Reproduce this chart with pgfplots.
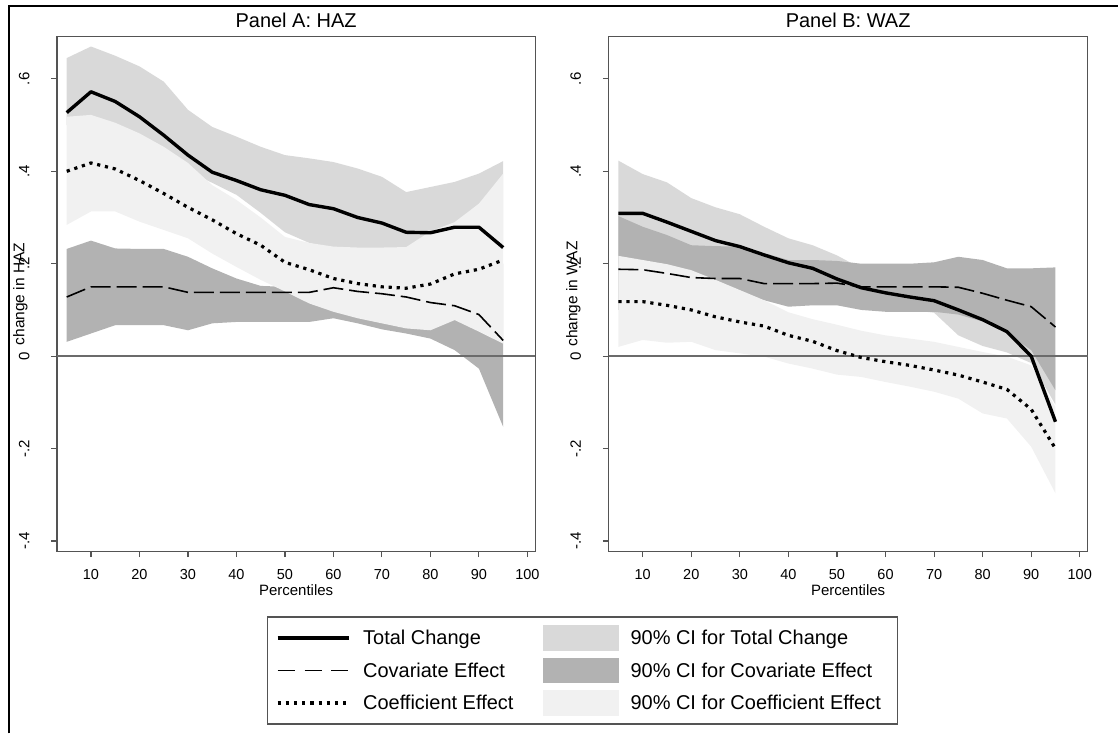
\documentclass[border=0pt]{standalone}
\usepackage{fontspec}
\setmainfont{Liberation Sans}
\usepackage{pgfplots}
\pgfplotsset{compat=1.18}
\usepackage{pgfplotstable}
\usepgfplotslibrary{fillbetween}

\definecolor{ciT}{gray}{0.85}
\definecolor{ciV}{gray}{0.70}
\definecolor{ciC}{gray}{0.945}
\definecolor{axc}{gray}{0.33}
\definecolor{zl}{gray}{0.42}

\pgfplotstableread{
p  tot   totU  totL  cov   covU  covL   coef  coefU coefL
5  0.527 0.645 0.500 0.128 0.232 0.031  0.400 0.518 0.284
10 0.572 0.670 0.500 0.150 0.250 0.049  0.418 0.522 0.313
15 0.551 0.650 0.480 0.150 0.233 0.067  0.405 0.505 0.313
20 0.518 0.627 0.460 0.150 0.232 0.067  0.380 0.482 0.291
25 0.478 0.594 0.430 0.150 0.232 0.067  0.352 0.453 0.273
30 0.435 0.533 0.400 0.138 0.215 0.056  0.322 0.418 0.255
35 0.398 0.496 0.375 0.138 0.190 0.071  0.295 0.370 0.222
40 0.380 0.475 0.349 0.138 0.168 0.074  0.265 0.338 0.193
45 0.360 0.453 0.310 0.138 0.152 0.074  0.240 0.300 0.165
50 0.348 0.435 0.268 0.138 0.150 0.074  0.203 0.258 0.140
55 0.328 0.428 0.245 0.138 0.170 0.074  0.187 0.245 0.114
60 0.319 0.420 0.232 0.148 0.190 0.082  0.168 0.237 0.096
65 0.300 0.406 0.230 0.140 0.200 0.071  0.157 0.235 0.082
70 0.288 0.388 0.230 0.135 0.200 0.058  0.150 0.235 0.071
75 0.268 0.355 0.230 0.128 0.200 0.049  0.147 0.236 0.060
80 0.267 0.366 0.230 0.116 0.200 0.038  0.156 0.270 0.056
85 0.279 0.377 0.230 0.109 0.200 0.013  0.178 0.290 0.078
90 0.279 0.395 0.230 0.090 0.200 -0.027 0.188 0.330 0.053
95 0.235 0.422 0.230 0.034 0.200 -0.153 0.208 0.395 0.027
}\haz

\pgfplotstableread{
p  tot    totU  totL   cov   covU  covL   coef   coefU  coefL
5  0.309  0.423 0.200  0.188 0.303 0.100  0.118  0.217  0.020
10 0.309  0.394 0.210  0.187 0.280 0.110  0.118  0.208  0.035
15 0.290  0.376 0.200  0.179 0.262 0.115  0.110  0.199  0.029
20 0.270  0.342 0.190  0.170 0.240 0.120  0.100  0.186  0.031
25 0.250  0.322 0.170  0.168 0.238 0.125  0.085  0.165  0.013
30 0.237  0.307 0.160  0.168 0.237 0.130  0.074  0.143  0.006
35 0.219  0.280 0.140  0.157 0.223 0.121  0.065  0.121  -0.001
40 0.202  0.255 0.130  0.157 0.208 0.107  0.045  0.095  -0.016
45 0.190  0.240 0.125  0.157 0.208 0.110  0.032  0.080  -0.027
50 0.167  0.218 0.120  0.158 0.206 0.110  0.012  0.068  -0.040
55 0.148  0.190 0.110  0.150 0.200 0.100  -0.003 0.055  -0.045
60 0.137  0.180 0.100  0.150 0.200 0.096  -0.012 0.045  -0.056
65 0.128  0.175 0.100  0.150 0.200 0.096  -0.020 0.038  -0.066
70 0.120  0.170 0.094  0.150 0.203 0.096  -0.030 0.031  -0.077
75 0.100  0.160 0.045  0.149 0.215 0.090  -0.041 0.020  -0.092
80 0.079  0.140 0.022  0.136 0.208 0.075  -0.056 0.009  -0.124
85 0.053  0.120 0.008  0.121 0.190 0.050  -0.072 -0.001 -0.135
90 0.000  0.090 -0.015 0.107 0.190 0.013  -0.115 -0.020 -0.196
95 -0.142 0.000 -0.105 0.063 0.192 -0.074 -0.200 -0.110 -0.297
}\waz

\pgfplotsset{
  panel/.style={
    scale only axis, height=515.3pt,
    xmin=3, xmax=101.6, ymin=-0.4226, ymax=0.6913,
    axis line style={axc, line width=1.2pt},
    tick style={axc, line width=1.1pt},
    tick align=outside, major tick length=5.8pt,
    xtick pos=bottom, ytick pos=left,
    xtick={10,20,30,40,50,60,70,80,90,100},
    xticklabels={10,20,30,40,50,60,70,80,90,100},
    ytick={-0.4,-0.2,0,0.2,0.4,0.6},
    yticklabels={-.4,-.2,0,.2,.4,.6},
    xticklabel shift=22pt,
    xticklabel style={font=\fontsize{14.5}{16}\selectfont, anchor=base, inner sep=0pt},
    yticklabel style={font=\fontsize{15}{17}\selectfont, xshift=-22pt, rotate=90, anchor=base, inner sep=0pt},
    title style={font=\fontsize{20}{24}\selectfont, at={(0.5,1)}, anchor=base, yshift=3.4pt, inner sep=0pt},
    xlabel style={font=\fontsize{15}{18}\selectfont, at={(axis description cs:0.5,-0.0854)}, anchor=base, inner sep=0pt},
    xlabel={Percentiles},
  },
  totline/.style={black, line width=3.4pt, line join=round},
  covline/.style={black, line width=1.6pt, dash pattern=on 20pt off 6pt},
  coefline/.style={black, line width=3.2pt, dash pattern=on 3.2pt off 4.8pt},
}

\begin{document}
\begin{tikzpicture}
\path (0pt,0pt) rectangle (1119pt,734pt);
\draw[line width=2.2pt, black] (9pt,0pt) -- (9pt,728pt) -- (1119pt,728pt);

\begin{axis}[panel, width=478.6pt, at={(57.1pt,182pt)}, anchor=south west,
  title={Panel A: HAZ},
  legend columns=2, legend cell align=left,
  legend style={at={(0.4386,-0.1261)}, anchor=north west, draw=axc, line width=1.2pt,
    inner xsep=8.5pt, inner ysep=8.5pt, font=\fontsize{20}{24}\selectfont,
    row sep=7.3pt, nodes={inner sep=0pt},
    /tikz/every odd column/.append style={column sep=12pt},
    /tikz/every even column/.append style={column sep=30pt}},
]
\addplot[zl, line width=1.5pt, forget plot] coordinates {(3,0) (101.6,0)};
\addplot[name path=tu, draw=none, forget plot] table[x=p,y=totU]{\haz};
\addplot[name path=tl, draw=none, forget plot] table[x=p,y=totL]{\haz};
\addplot[ciT, forget plot] fill between[of=tu and tl];
\addplot[name path=vu, draw=none, forget plot] table[x=p,y=covU]{\haz};
\addplot[name path=vl, draw=none, forget plot] table[x=p,y=covL]{\haz};
\addplot[ciV, forget plot] fill between[of=vu and vl];
\addplot[name path=cu, draw=none, forget plot] table[x=p,y=coefU]{\haz};
\addplot[name path=cl, draw=none, forget plot] table[x=p,y=coefL]{\haz};
\addplot[ciC, forget plot] fill between[of=cu and cl];
\addplot[totline, forget plot] table[x=p,y=tot]{\haz};
\addplot[covline, forget plot] table[x=p,y=cov]{\haz};
\addplot[coefline, forget plot] table[x=p,y=coef]{\haz};

\addlegendimage{legend image code/.code={\draw[black, line width=3.4pt] (0pt,0pt) -- (72pt,0pt);}}
\addlegendentry{Total Change}
\addlegendimage{legend image code/.code={\fill[ciT] (0pt,-12pt) rectangle (74pt,12pt);}}
\addlegendentry{90\% CI for Total Change}
\addlegendimage{legend image code/.code={\draw[black, line width=1.6pt, dash pattern=on 17pt off 10pt] (0pt,0pt) -- (72pt,0pt);}}
\addlegendentry{Covariate Effect}
\addlegendimage{legend image code/.code={\fill[ciV] (0pt,-12pt) rectangle (74pt,12pt);}}
\addlegendentry{90\% CI for Covariate Effect}
\addlegendimage{legend image code/.code={\draw[black, line width=3.2pt, dash pattern=on 3.2pt off 5pt] (0pt,0pt) -- (72pt,0pt);}}
\addlegendentry{Coefficient Effect}
\addlegendimage{legend image code/.code={\fill[ciC] (0pt,-12pt) rectangle (74pt,12pt);}}
\addlegendentry{90\% CI for Coefficient Effect\hspace*{8pt}}
\end{axis}

\begin{axis}[panel, width=479.3pt, at={(609.3pt,182pt)}, anchor=south west,
  title={Panel B: WAZ},
]
\addplot[zl, line width=1.5pt, forget plot] coordinates {(3,0) (101.6,0)};
\addplot[name path=tu, draw=none, forget plot] table[x=p,y=totU]{\waz};
\addplot[name path=tl, draw=none, forget plot] table[x=p,y=totL]{\waz};
\addplot[ciT, forget plot] fill between[of=tu and tl];
\addplot[name path=vu, draw=none, forget plot] table[x=p,y=covU]{\waz};
\addplot[name path=vl, draw=none, forget plot] table[x=p,y=covL]{\waz};
\addplot[ciV, forget plot] fill between[of=vu and vl];
\addplot[name path=cu, draw=none, forget plot] table[x=p,y=coefU]{\waz};
\addplot[name path=cl, draw=none, forget plot] table[x=p,y=coefL]{\waz};
\addplot[ciC, forget plot] fill between[of=cu and cl];
\addplot[totline, forget plot] table[x=p,y=tot]{\waz};
\addplot[covline, forget plot] table[x=p,y=cov]{\waz};
\addplot[coefline, forget plot] table[x=p,y=coef]{\waz};
\end{axis}

\node[rotate=90, anchor=center, inner sep=0pt, font=\fontsize{15.5}{18}\selectfont] at (20.5pt,439.7pt) {change in HAZ};
\node[rotate=90, anchor=center, inner sep=0pt, font=\fontsize{15.5}{18}\selectfont] at (574pt,439.7pt) {change in WAZ};
\end{tikzpicture}
\end{document}
